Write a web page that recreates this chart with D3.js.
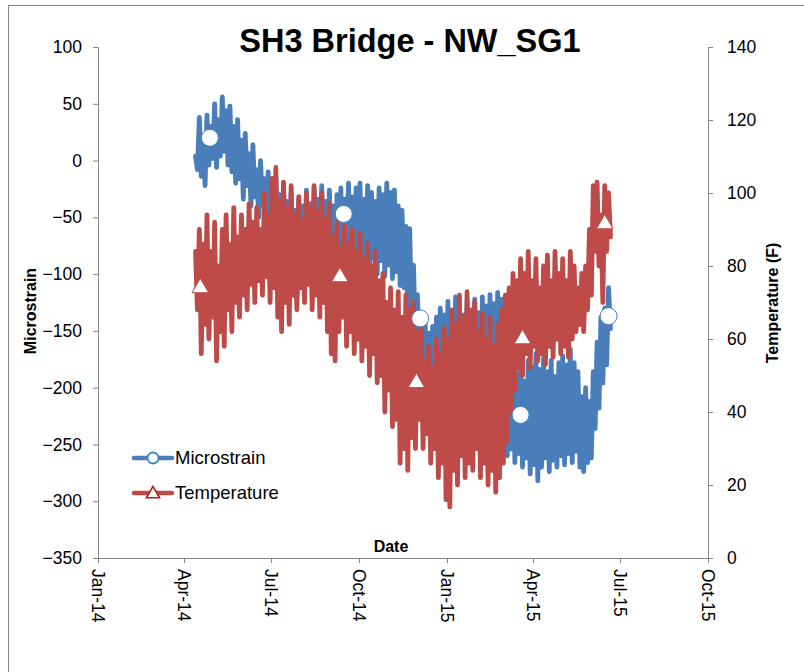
<!DOCTYPE html>
<html>
<head>
<meta charset="utf-8">
<script src="https://cdn.jsdelivr.net/npm/d3@7/dist/d3.min.js"></script>
<style>
  html, body { margin: 0; padding: 0; background: #fff; }
  svg { display: block; font-family: "Liberation Sans", Arial, sans-serif; }
</style>
</head>
<body>
<div id="chart"></div>
<script>
// Gauge readings: one daily peak and trough every 4 days, starting 13 Apr 2014
const readingStart = "2014-04-13";
const readingStepDays = 4;

const strainPeaks = [4, 38, 22, 40, 30, 50, 36, 56, 44, 48, 30, 36, 18, 24, 6, 14, -8, 0, -16, -10,
  -24, -14, -30, -20, -36, -28, -44, -34, -40, -26, -38, -24, -34, -22, -36, -26, -40, -30, -24, -34,
  -20, -32, -24, -20, -34, -22, -28, -36, -24, -30, -20, -28, -26, -40, -44, -58, -60, -92, -118, -136,
  -140, -152, -146, -138, -130, -136, -124, -132, -120, -130, -136, -124, -132, -122, -134, -120, -128, -118, -126, -116,
  -122, -128, -152, -170, -188, -180, -194, -176, -182, -170, -184, -174, -186, -176, -190, -178, -172, -180, -166, -178,
  -186, -208, -200, -212, -186, -160, -138, -130, -112];
const strainTroughs = [-8, -14, -22, -4, 2, -6, 4, 8, -4, -10, -20, -16, -34, -22, -40, -32, -50, -40, -58, -52,
  -72, -64, -90, -80, -110, -98, -122, -110, -118, -100, -106, -90, -98, -88, -108, -96, -112, -92, -96, -80,
  -94, -82, -96, -84, -90, -98, -86, -100, -88, -102, -92, -104, -98, -110, -112, -132, -140, -158, -160, -180,
  -188, -210, -214, -230, -222, -236, -230, -244, -232, -246, -238, -248, -236, -250, -240, -252, -244, -254, -246, -256,
  -248, -260, -254, -266, -258, -270, -262, -276, -268, -282, -270, -262, -274, -264, -270, -260, -268, -258, -266, -256,
  -270, -274, -266, -262, -236, -218, -196, -180, -148];

const tempPeaks = [84, 90, 86, 94, 84, 92, 80, 90, 94, 86, 96, 88, 94, 90, 97, 92, 96, 90, 100, 94,
  104, 107, 98, 103, 96, 102, 94, 99, 92, 100, 96, 102, 95, 100, 93, 97, 88, 92, 85, 91,
  86, 90, 84, 89, 82, 86, 80, 84, 76, 78, 70, 74, 68, 73, 66, 72, 68, 70, 62, 64,
  54, 58, 52, 60, 56, 63, 60, 68, 64, 72, 66, 73, 68, 70, 62, 67, 60, 66, 58, 64,
  68, 72, 74, 78, 76, 82, 78, 84, 76, 82, 74, 80, 83, 76, 84, 78, 82, 76, 84, 80,
  74, 78, 80, 90, 102, 103, 94, 102, 100];
const tempTroughs = [68, 56, 64, 60, 66, 54, 62, 58, 68, 62, 70, 66, 72, 68, 75, 70, 76, 72, 77, 70,
  74, 66, 62, 70, 64, 72, 68, 74, 70, 75, 68, 72, 66, 70, 62, 56, 54, 62, 66, 58,
  62, 56, 60, 54, 58, 50, 56, 48, 50, 40, 46, 36, 38, 26, 30, 24, 33, 30, 38, 30,
  34, 26, 30, 22, 26, 16, 14, 24, 20, 28, 22, 26, 24, 30, 22, 26, 20, 24, 18, 22,
  26, 32, 40, 46, 52, 50, 56, 52, 58, 54, 56, 53, 58, 55, 60, 56, 58, 55, 60, 62,
  64, 62, 68, 72, 84, 80, 70, 84, 88];

// Marked readings on each series
const strainMarkDates = ["2014-04-28", "2014-09-15", "2014-12-04", "2015-03-19", "2015-06-19"];
const strainMarkValues = [20, -47, -139, -224, -137];
const tempMarkDates = ["2014-04-18", "2014-09-11", "2014-11-30", "2015-03-21", "2015-06-15"];
const tempMarkValues = [74, 77, 48, 60, 91.5];

const dateTicks = ["2014-01-01", "2014-04-01", "2014-07-01", "2014-10-01", "2015-01-01", "2015-04-01", "2015-07-01", "2015-10-01"];
const strainTicks = [100, 50, 0, -50, -100, -150, -200, -250, -300, -350];
const tempTicks = [140, 120, 100, 80, 60, 40, 20, 0];

const W = 804, H = 672;
const plotL = 98, plotR = 708, plotT = 47, plotB = 558;
const blue = "#4A7EBB", red = "#BE4B48", axisGrey = "#868686";
const tickFont = "17.5px";

const parse = d3.utcParse("%Y-%m-%d");
const fmt = d3.utcFormat("%b-%y");

const x = d3.scaleUtc().domain([parse(dateTicks[0]), parse(dateTicks[dateTicks.length - 1])]).range([plotL, plotR]);
const yL = d3.scaleLinear().domain([-350, 100]).range([plotB, plotT]);
const yR = d3.scaleLinear().domain([0, 140]).range([plotB, plotT]);

function toSeries(peaks, troughs) {
  const t0 = parse(readingStart);
  const out = [];
  peaks.forEach((p, i) => {
    const d = d3.utcDay.offset(t0, i * readingStepDays);
    out.push({ date: d, value: p });
    out.push({ date: d3.utcDay.offset(d, readingStepDays / 2), value: troughs[i] });
  });
  return out;
}
const strain = toSeries(strainPeaks, strainTroughs);
const temp = toSeries(tempPeaks, tempTroughs);

const svg = d3.select("#chart").append("svg").attr("width", W).attr("height", H);

// chart frame
svg.append("rect").attr("x", 8.5).attr("y", 5.5).attr("width", 900).attr("height", 900)
  .attr("fill", "none").attr("stroke", axisGrey).attr("stroke-width", 1);

// axes
const axL = svg.append("g").attr("transform", `translate(${plotL},0)`)
  .call(d3.axisLeft(yL).tickValues(strainTicks).tickSize(5).tickPadding(11));
const axR = svg.append("g").attr("transform", `translate(${plotR},0)`)
  .call(d3.axisRight(yR).tickValues(tempTicks).tickSize(5).tickPadding(14));
const axB = svg.append("g").attr("transform", `translate(0,${plotB})`)
  .call(d3.axisBottom(x).tickValues(dateTicks.map(parse)).tickFormat(fmt).tickSize(5));

[axL, axR, axB].forEach(g => {
  g.selectAll("path, line").attr("stroke", axisGrey);
  g.selectAll("text").attr("fill", "#000").style("font-size", tickFont)
    .style("font-family", "'Liberation Sans', Arial, sans-serif");
});
axB.selectAll("text")
  .attr("text-anchor", "start")
  .attr("transform", "rotate(90)")
  .attr("x", 11).attr("y", 0).attr("dy", "0.35em");

// series lines
const lineL = d3.line().x(d => x(d.date)).y(d => yL(d.value));
const lineR = d3.line().x(d => x(d.date)).y(d => yR(d.value));

svg.append("path").datum(strain).attr("d", lineL)
  .attr("fill", "none").attr("stroke", blue).attr("stroke-width", 4.8)
  .attr("stroke-linejoin", "round").attr("stroke-linecap", "round");
svg.append("path").datum(temp).attr("d", lineR)
  .attr("fill", "none").attr("stroke", red).attr("stroke-width", 4.8)
  .attr("stroke-linejoin", "round").attr("stroke-linecap", "round");

// markers
const tri = d3.symbol().type(d3.symbolTriangle).size(120);
svg.append("g").selectAll("circle").data(strainMarkDates.map((d, i) => ({ date: parse(d), value: strainMarkValues[i] })))
  .join("circle").attr("cx", d => x(d.date)).attr("cy", d => yL(d.value)).attr("r", 8.5)
  .attr("fill", "#fff").attr("stroke", blue).attr("stroke-width", 1);
svg.append("g").selectAll("path").data(tempMarkDates.map((d, i) => ({ date: parse(d), value: tempMarkValues[i] })))
  .join("path").attr("d", tri)
  .attr("transform", d => `translate(${x(d.date)},${yR(d.value)})`)
  .attr("fill", "#fff").attr("stroke", red).attr("stroke-width", 1);

// titles
svg.append("text").attr("x", 410).attr("y", 52).attr("text-anchor", "middle")
  .style("font-size", "32.5px").style("font-weight", "bold").text("SH3 Bridge - NW_SG1");
svg.append("text").attr("transform", "translate(36,311) rotate(-90)").attr("text-anchor", "middle")
  .style("font-size", "16px").style("font-weight", "bold").text("Microstrain");
svg.append("text").attr("transform", "translate(778,303) rotate(-90)").attr("text-anchor", "middle")
  .style("font-size", "16px").style("font-weight", "bold").text("Temperature (F)");
svg.append("text").attr("x", 391).attr("y", 552).attr("text-anchor", "middle")
  .style("font-size", "16px").style("font-weight", "bold").text("Date");

// legend
const legend = svg.append("g");
const items = [
  { label: "Microstrain", color: blue, shape: "circle", y: 458 },
  { label: "Temperature", color: red, shape: "triangle", y: 493 }
];
items.forEach(it => {
  legend.append("line").attr("x1", 134).attr("x2", 172).attr("y1", it.y).attr("y2", it.y)
    .attr("stroke", it.color).attr("stroke-width", 4.5).attr("stroke-linecap", "round");
  if (it.shape === "circle") {
    legend.append("circle").attr("cx", 153).attr("cy", it.y).attr("r", 5.5)
      .attr("fill", "#fff").attr("stroke", "#3C86C8").attr("stroke-width", 1.8);
  } else {
    legend.append("path").attr("d", d3.symbol().type(d3.symbolTriangle).size(75))
      .attr("transform", `translate(153,${it.y + 1})`)
      .attr("fill", "#fff").attr("stroke", "#C0161E").attr("stroke-width", 1.6);
  }
  legend.append("text").attr("x", 175).attr("y", it.y).attr("dy", "0.35em")
    .style("font-size", "18.5px").text(it.label);
});
</script>
</body>
</html>
